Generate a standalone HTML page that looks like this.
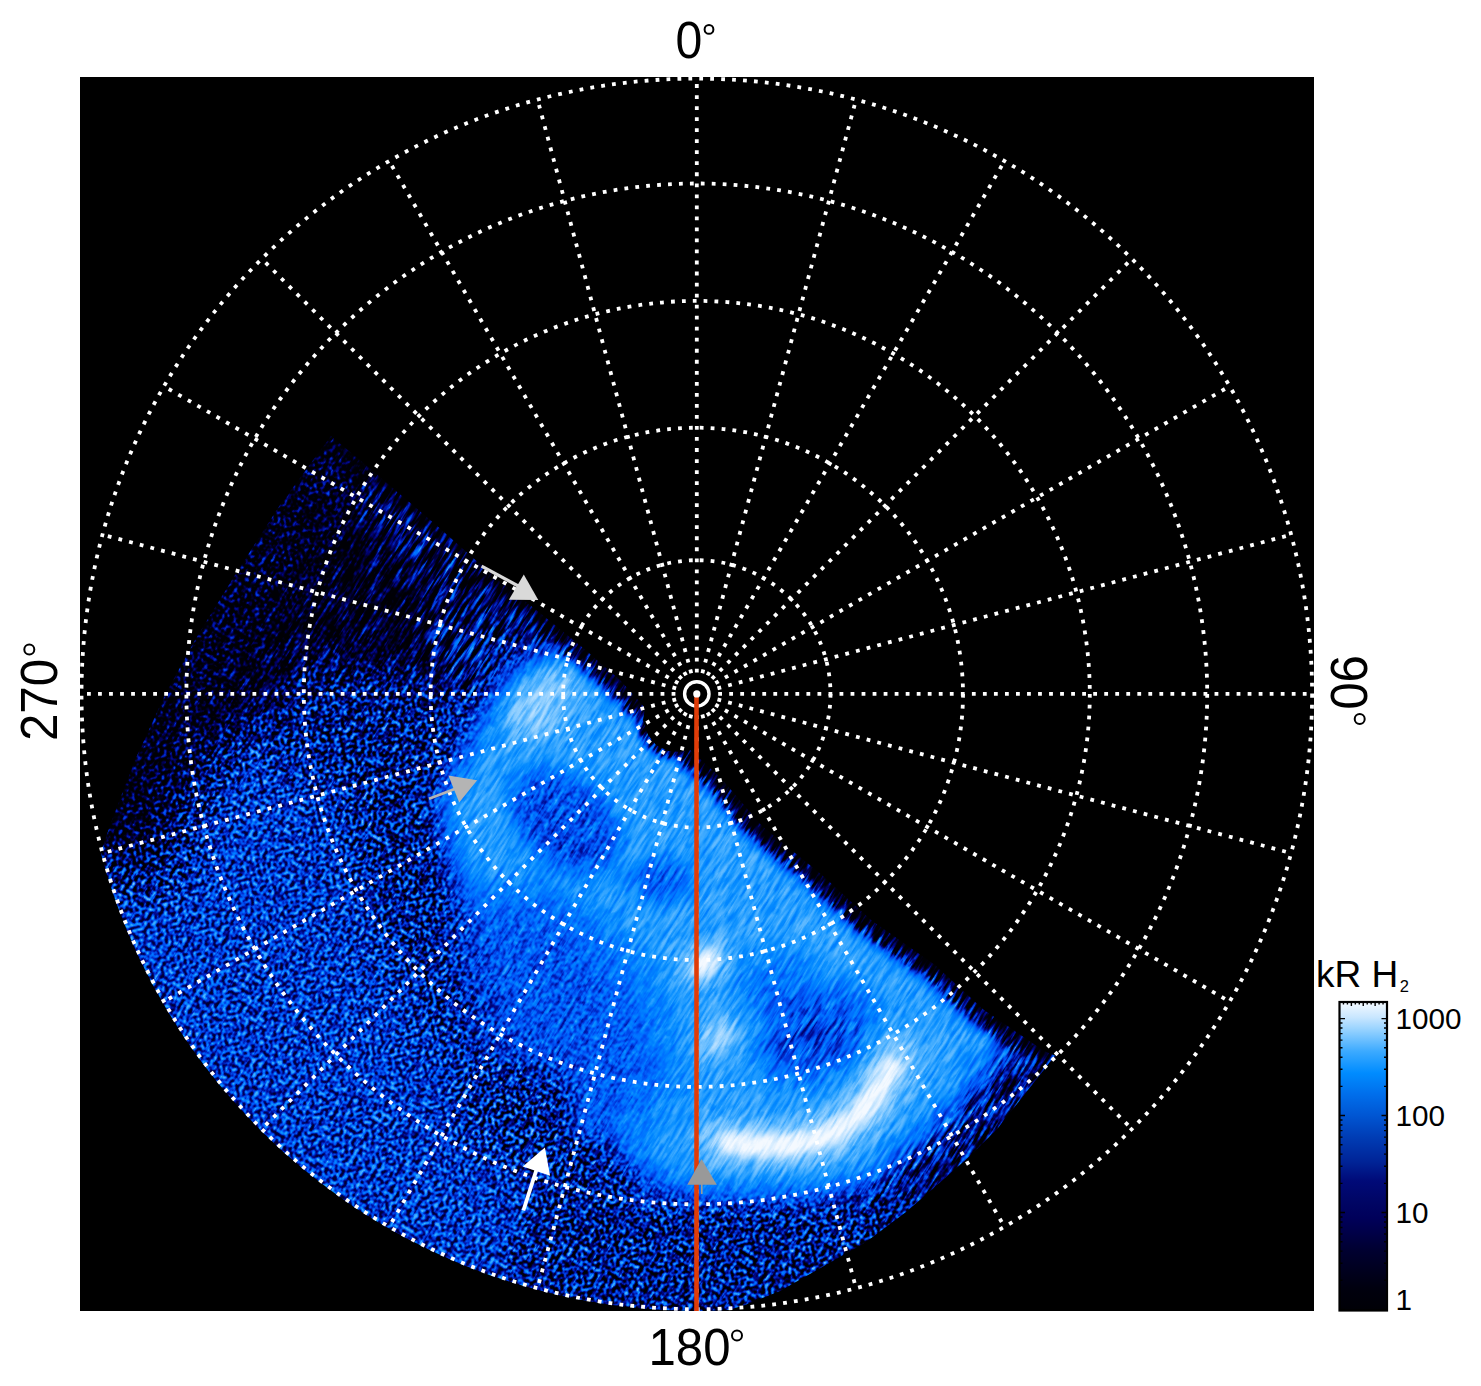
<!DOCTYPE html>
<html><head><meta charset="utf-8"><title>aurora</title><style>html,body{margin:0;padding:0;background:#fff;width:1481px;height:1386px;overflow:hidden}svg{position:absolute;left:0;top:0;display:block}</style></head><body>
<svg width="1481" height="1386" viewBox="0 0 1481 1386">
<defs>
<linearGradient id="cbg" x1="0" y1="1" x2="0" y2="0"><stop offset="0" stop-color="rgb(0,0,6)"/><stop offset="0.07" stop-color="rgb(0,0,14)"/><stop offset="0.2" stop-color="rgb(0,0,50)"/><stop offset="0.26" stop-color="rgb(0,0,75)"/><stop offset="0.3" stop-color="rgb(0,0,90)"/><stop offset="0.35" stop-color="rgb(0,5,100)"/><stop offset="0.42" stop-color="rgb(0,10,120)"/><stop offset="0.48" stop-color="rgb(0,35,150)"/><stop offset="0.56" stop-color="rgb(0,60,180)"/><stop offset="0.63" stop-color="rgb(0,85,210)"/><stop offset="0.7" stop-color="rgb(0,110,235)"/><stop offset="0.77" stop-color="rgb(0,140,255)"/><stop offset="0.84" stop-color="rgb(60,170,255)"/><stop offset="0.91" stop-color="rgb(150,210,255)"/><stop offset="0.95" stop-color="rgb(200,230,255)"/><stop offset="1" stop-color="rgb(245,250,255)"/></linearGradient>
<clipPath id="clipCirc"><circle cx="696.8" cy="693.9" r="617"/></clipPath>
<clipPath id="clipData"><path d="M331 436 L373 471 L436 525 L498 580 L540 613 L582 647 L620 680 L645 708 L643 720 L648 735 L656 745 L668 751 L680 752 L690 750 L720 777 L762 826 L822 875 L871 920 L935 965 L984 1010 L1044 1051 L1056 1056 L1050 1062 L998 1128 L970 1156 L928 1193 L906 1212 L866 1242 L824 1266 L780 1291 L745 1305 L722 1312 L705 1318 L700 1400 L0 1400 L60 900 L98 860 L112 820 L135 760 L165 695 L195 640 L235 575 L280 505 L331 436Z"/></clipPath>
<filter id="cm" x="-20%" y="-20%" width="140%" height="140%" color-interpolation-filters="sRGB" primitiveUnits="userSpaceOnUse">
  <feGaussianBlur in="SourceGraphic" stdDeviation="3" result="src"/>
  <feColorMatrix in="src" type="matrix" values="1 0 0 0 0  1 0 0 0 0  1 0 0 0 0  0 0 0 0 1" result="fld"/>
  <feColorMatrix in="src" type="matrix" values="0 1 0 0 0  0 1 0 0 0  0 1 0 0 0  0 0 0 0 1" result="wS"/>
  <feColorMatrix in="src" type="matrix" values="0 -1 0 0 1  0 -1 0 0 1  0 -1 0 0 1  0 0 0 0 1" result="wP"/>
  <feTurbulence type="fractalNoise" baseFrequency="0.035 0.3" numOctaves="2" seed="7" result="n1r"/>
  <feColorMatrix in="n1r" type="matrix" values="2 0 0 0 -0.5  2 0 0 0 -0.5  2 0 0 0 -0.5  0 0 0 0 1" result="n1"/>
  <feTurbulence type="fractalNoise" baseFrequency="0.26" numOctaves="1" seed="11" result="n2r"/>
  <feColorMatrix in="n2r" type="matrix" values="2.6 0 0 0 -0.8  2.6 0 0 0 -0.8  2.6 0 0 0 -0.8  0 0 0 0 1" result="n2"/>
  <feComposite in="n1" in2="wS" operator="arithmetic" k1="1" k2="0" k3="0" k4="0" result="c1"/>
  <feComposite in="n2" in2="wP" operator="arithmetic" k1="1" k2="0" k3="0" k4="0" result="c2"/>
  <feComposite in="c1" in2="c2" operator="arithmetic" k1="0" k2="1" k3="1" k4="0" result="nmix"/>
  <feComponentTransfer in="nmix" result="ng"><feFuncR type="table" tableValues="0 0.1 0.3 0.5 0.64 0.76 0.86"/><feFuncG type="table" tableValues="0 0.1 0.3 0.5 0.64 0.76 0.86"/><feFuncB type="table" tableValues="0 0.1 0.3 0.5 0.64 0.76 0.86"/><feFuncA type="linear" slope="0" intercept="1"/></feComponentTransfer>
  <feComponentTransfer in="fld" result="amp"><feFuncR type="table" tableValues="1 1 1 1 0.95 0.8 0.5 0.2 0.1 0.07 0.05"/><feFuncG type="table" tableValues="1 1 1 1 0.95 0.8 0.5 0.2 0.1 0.07 0.05"/><feFuncB type="table" tableValues="1 1 1 1 0.95 0.8 0.5 0.2 0.1 0.07 0.05"/><feFuncA type="linear" slope="0" intercept="1"/></feComponentTransfer>
  <feComposite in="ng" in2="amp" operator="arithmetic" k1="1" k2="0" k3="-0.5" k4="0.5" result="term"/>
  <feComposite in="fld" in2="term" operator="arithmetic" k1="0" k2="1" k3="1.4" k4="-0.7" result="v"/>
  <feTurbulence type="fractalNoise" baseFrequency="0.1 0.35" numOctaves="1" seed="23" result="n3r"/>
  <feColorMatrix in="n3r" type="matrix" values="2.6 0 0 0 -0.8  2.6 0 0 0 -0.8  2.6 0 0 0 -0.8  0 0 0 0 1" result="n3"/>
  <feComponentTransfer in="n3" result="dm"><feFuncR type="table" tableValues="0.5 0.44 0.28 0.08 0 0 0 0 0 0 0"/><feFuncG type="table" tableValues="0.5 0.44 0.28 0.08 0 0 0 0 0 0 0"/><feFuncB type="table" tableValues="0.5 0.44 0.28 0.08 0 0 0 0 0 0 0"/><feFuncA type="linear" slope="0" intercept="1"/></feComponentTransfer>
  <feComponentTransfer in="fld" result="amp2"><feFuncR type="table" tableValues="1 1 1 1 1 0.85 0.55 0.25 0.1 0.05 0.02"/><feFuncG type="table" tableValues="1 1 1 1 1 0.85 0.55 0.25 0.1 0.05 0.02"/><feFuncB type="table" tableValues="1 1 1 1 1 0.85 0.55 0.25 0.1 0.05 0.02"/><feFuncA type="linear" slope="0" intercept="1"/></feComponentTransfer>
  <feComposite in="dm" in2="amp2" operator="arithmetic" k1="1" k2="0" k3="0" k4="0" result="dd"/>
  <feComponentTransfer in="dd" result="inv"><feFuncR type="linear" slope="-1" intercept="1"/><feFuncG type="linear" slope="-1" intercept="1"/><feFuncB type="linear" slope="-1" intercept="1"/><feFuncA type="linear" slope="0" intercept="1"/></feComponentTransfer>
  <feComposite in="v" in2="inv" operator="arithmetic" k1="1" k2="0" k3="0" k4="0" result="v2"/>
  <feComponentTransfer in="v2">
    <feFuncR type="table" tableValues="0 0 0 0 0 0 0 0 0 0 0 0 0 0 0 0 0 0 0 0 0 0 0 0 0 0.05 0.15 0.27 0.43 0.58 0.73 0.85 0.96"/>
    <feFuncG type="table" tableValues="0 0 0 0 0 0 0 0 0 0 0 0.02 0.03 0.04 0.08 0.12 0.16 0.2 0.24 0.29 0.33 0.38 0.43 0.47 0.52 0.57 0.62 0.68 0.75 0.82 0.88 0.93 0.98"/>
    <feFuncB type="table" tableValues="0.02 0.04 0.05 0.08 0.11 0.15 0.18 0.23 0.3 0.35 0.41 0.47 0.52 0.57 0.64 0.71 0.77 0.83 0.89 0.92 0.96 0.98 1 1 1 1 1 1 1 1 1 1 1"/>
    <feFuncA type="linear" slope="0" intercept="1"/>
  </feComponentTransfer>
</filter>
<filter id="b40" x="-50%" y="-50%" width="200%" height="200%"><feGaussianBlur stdDeviation="40"/></filter>
<filter id="b25" x="-50%" y="-50%" width="200%" height="200%"><feGaussianBlur stdDeviation="25"/></filter>
<filter id="b15" x="-50%" y="-50%" width="200%" height="200%"><feGaussianBlur stdDeviation="15"/></filter>
<filter id="b10" x="-50%" y="-50%" width="200%" height="200%"><feGaussianBlur stdDeviation="10"/></filter>
<filter id="b6" x="-50%" y="-50%" width="200%" height="200%"><feGaussianBlur stdDeviation="6"/></filter>
<filter id="b3" x="-50%" y="-50%" width="200%" height="200%"><feGaussianBlur stdDeviation="3"/></filter>
</defs>
<rect x="80" y="77" width="1234" height="1234" fill="#000"/>
<g clip-path="url(#clipCirc)"><g clip-path="url(#clipData)"><g transform="rotate(-58 696.8 693.9)"><g filter="url(#cm)"><g transform="rotate(58 696.8 693.9)">
<rect x="60" y="400" width="1060" height="940" fill="rgb(148,26,0)"/>
<g filter="url(#b25)"><path d="M40 860 L120 780 L200 725 L330 715 L430 715 L470 660 L500 600 L360 420 L40 420Z" fill="rgb(31,204,0)"/></g>
<g filter="url(#b25)"><ellipse cx="315" cy="475" rx="60" ry="40" transform="rotate(40 315 475)" fill="rgb(26,204,0)"/></g>
<g filter="url(#b25)"><path d="M330 720 L400 730 L415 820 L445 910 L495 995 L545 1075 L590 1150" fill="none" stroke="rgb(112,51,0)" stroke-width="120" stroke-linecap="round" stroke-linejoin="round"/></g>
<g filter="url(#b15)"><path d="M445 790 L470 740 L505 700 L550 672 L600 662 L700 740 L800 850 L900 940 L1000 1010 L1070 1050 L1040 1090 L980 1140 L920 1180 L860 1192 L780 1195 L700 1195 L650 1180 L610 1140 L585 1090 L545 1010 L500 955 L465 905 L445 850 L435 790Z" fill="rgb(209,255,0)"/></g>
<g filter="url(#b15)"><path d="M300 430 L380 490 L440 540 L500 590 L545 625" fill="none" stroke="rgb(97,255,0)" stroke-width="70" stroke-linecap="round"/></g>
<g filter="url(#b15)"><ellipse cx="462" cy="652" rx="45" ry="30" transform="rotate(40 462 652)" fill="rgb(107,255,0)"/></g>
<g filter="url(#b25)"><ellipse cx="560" cy="1010" rx="80" ry="140" transform="rotate(-35 560 1010)" fill="rgb(168,128,0)"/></g>
<g filter="url(#b10)">
<ellipse cx="565" cy="822" rx="62" ry="42" transform="rotate(40 565 822)" fill="rgb(163,153,0)"/>
<ellipse cx="660" cy="880" rx="30" ry="20" fill="rgb(168,204,0)"/>
</g>
<g filter="url(#b15)">
<ellipse cx="815" cy="1035" rx="60" ry="40" transform="rotate(-30 815 1035)" fill="rgb(163,230,0)"/>
<ellipse cx="775" cy="985" rx="30" ry="25" fill="rgb(173,230,0)"/>
</g>
<g filter="url(#b15)">
<ellipse cx="548" cy="690" rx="62" ry="34" transform="rotate(-42 548 690)" fill="rgb(219,255,0)"/>
</g>
<g filter="url(#b10)">
<ellipse cx="540" cy="705" rx="38" ry="22" transform="rotate(-45 540 705)" fill="rgb(230,255,0)"/>
<ellipse cx="490" cy="820" rx="12" ry="50" transform="rotate(-25 490 820)" fill="rgb(209,255,0)"/>
<ellipse cx="718" cy="1038" rx="24" ry="17" transform="rotate(-40 718 1038)" fill="rgb(237,255,0)"/>
<ellipse cx="705" cy="963" rx="28" ry="18" transform="rotate(-50 705 963)" fill="rgb(235,255,0)"/>
<ellipse cx="581" cy="1119" rx="16" ry="7" transform="rotate(-55 581 1119)" fill="rgb(222,255,0)"/>
<path d="M898 1058 L887 1073 L876 1094 L858 1116 L830 1135 L795 1144 L760 1146 L722 1142" fill="none" stroke="rgb(230,255,0)" stroke-width="48" stroke-linejoin="round" stroke-linecap="round"/>
<path d="M940 1060 L920 1110 L885 1150" fill="none" stroke="rgb(209,255,0)" stroke-width="18"/>
</g>
<g filter="url(#b3)">
<path d="M891 1068 L887 1073 L876 1094 L858 1116 L830 1135 L795 1144 L760 1146 L728 1143" fill="none" stroke="rgb(255,255,0)" stroke-width="20" stroke-linecap="round" stroke-linejoin="round"/>
<ellipse cx="705" cy="963" rx="15" ry="9" transform="rotate(-55 705 963)" fill="rgb(255,255,0)"/>
</g>
<path d="M886 1076 L876 1094 L858 1116 L830 1135 L795 1144 L760 1146 L735 1143" fill="none" stroke="rgb(255,255,0)" stroke-width="10" stroke-linecap="round" stroke-linejoin="round"/>
<g filter="url(#b15)"><path d="M1050 1062 L998 1128 L970 1156 L928 1193 L906 1212 L866 1242 L824 1266 L780 1291 L745 1305 L722 1312 L705 1318" fill="none" stroke="rgb(102,204,0)" stroke-width="80"/></g>
<g filter="url(#b10)"><path d="M540 1185 L640 1205 L700 1210 L860 1210 L930 1195 L820 1340 L480 1340Z" fill="rgb(115,51,0)"/></g>
<g filter="url(#b15)"><ellipse cx="518" cy="1110" rx="55" ry="45" fill="rgb(120,26,0)"/></g>
<g filter="url(#b6)"><path d="M331 436 L373 471 L436 525 L498 580 L540 613 L582 647 L620 680 L645 708" fill="none" stroke="rgb(0,255,0)" stroke-width="24"/><path d="M690 750 L720 777 L762 826 L822 875 L871 920 L935 965 L984 1010 L1044 1051 L1056 1056" fill="none" stroke="rgb(0,255,0)" stroke-width="24"/></g>
<g filter="url(#b3)"><path d="M620 680 L645 708 L643 720 L648 735 L656 745 L668 751 L680 752 L690 750 L720 777" fill="none" stroke="rgb(0,255,0)" stroke-width="8"/></g>
<g filter="url(#b25)"><path d="M331 436 L280 505 L235 575 L195 640 L165 695 L135 760 L112 820 L98 860" fill="none" stroke="rgb(20,51,0)" stroke-width="120"/></g>
</g></g></g></g></g>
<circle cx="696.8" cy="693.9" r="133.7" fill="none" stroke="#fff" stroke-width="3.8" stroke-dasharray="3.8 7.11"/>
<circle cx="696.8" cy="693.9" r="266.2" fill="none" stroke="#fff" stroke-width="3.8" stroke-dasharray="3.8 7.13"/>
<circle cx="696.8" cy="693.9" r="393" fill="none" stroke="#fff" stroke-width="3.8" stroke-dasharray="3.8 7.13"/>
<circle cx="696.8" cy="693.9" r="510.4" fill="none" stroke="#fff" stroke-width="3.8" stroke-dasharray="3.8 7.15"/>
<circle cx="696.8" cy="693.9" r="615.3" fill="none" stroke="#fff" stroke-width="3.8" stroke-dasharray="3.8 7.15"/>
<line x1="696.8" y1="672.5" x2="696.8" y2="78.6" stroke="#fff" stroke-width="3.8" stroke-dasharray="3.8 7.23"/>
<line x1="702.34" y1="673.23" x2="856.05" y2="99.57" stroke="#fff" stroke-width="3.8" stroke-dasharray="3.8 7.23"/>
<line x1="707.5" y1="675.37" x2="1004.45" y2="161.03" stroke="#fff" stroke-width="3.8" stroke-dasharray="3.8 7.23"/>
<line x1="711.93" y1="678.77" x2="1131.88" y2="258.82" stroke="#fff" stroke-width="3.8" stroke-dasharray="3.8 7.23"/>
<line x1="715.33" y1="683.2" x2="1229.67" y2="386.25" stroke="#fff" stroke-width="3.8" stroke-dasharray="3.8 7.23"/>
<line x1="717.47" y1="688.36" x2="1291.13" y2="534.65" stroke="#fff" stroke-width="3.8" stroke-dasharray="3.8 7.23"/>
<line x1="718.2" y1="693.9" x2="1312.1" y2="693.9" stroke="#fff" stroke-width="3.8" stroke-dasharray="3.8 7.23"/>
<line x1="717.47" y1="699.44" x2="1291.13" y2="853.15" stroke="#fff" stroke-width="3.8" stroke-dasharray="3.8 7.23"/>
<line x1="715.33" y1="704.6" x2="1229.67" y2="1001.55" stroke="#fff" stroke-width="3.8" stroke-dasharray="3.8 7.23"/>
<line x1="711.93" y1="709.03" x2="1131.88" y2="1128.98" stroke="#fff" stroke-width="3.8" stroke-dasharray="3.8 7.23"/>
<line x1="707.5" y1="712.43" x2="1004.45" y2="1226.77" stroke="#fff" stroke-width="3.8" stroke-dasharray="3.8 7.23"/>
<line x1="702.34" y1="714.57" x2="856.05" y2="1288.23" stroke="#fff" stroke-width="3.8" stroke-dasharray="3.8 7.23"/>
<line x1="696.8" y1="715.3" x2="696.8" y2="1309.2" stroke="#fff" stroke-width="3.8" stroke-dasharray="3.8 7.23"/>
<line x1="691.26" y1="714.57" x2="537.55" y2="1288.23" stroke="#fff" stroke-width="3.8" stroke-dasharray="3.8 7.23"/>
<line x1="686.1" y1="712.43" x2="389.15" y2="1226.77" stroke="#fff" stroke-width="3.8" stroke-dasharray="3.8 7.23"/>
<line x1="681.67" y1="709.03" x2="261.72" y2="1128.98" stroke="#fff" stroke-width="3.8" stroke-dasharray="3.8 7.23"/>
<line x1="678.27" y1="704.6" x2="163.93" y2="1001.55" stroke="#fff" stroke-width="3.8" stroke-dasharray="3.8 7.23"/>
<line x1="676.13" y1="699.44" x2="102.47" y2="853.15" stroke="#fff" stroke-width="3.8" stroke-dasharray="3.8 7.23"/>
<line x1="675.4" y1="693.9" x2="81.5" y2="693.9" stroke="#fff" stroke-width="3.8" stroke-dasharray="3.8 7.23"/>
<line x1="676.13" y1="688.36" x2="102.47" y2="534.65" stroke="#fff" stroke-width="3.8" stroke-dasharray="3.8 7.23"/>
<line x1="678.27" y1="683.2" x2="163.93" y2="386.25" stroke="#fff" stroke-width="3.8" stroke-dasharray="3.8 7.23"/>
<line x1="681.67" y1="678.77" x2="261.72" y2="258.82" stroke="#fff" stroke-width="3.8" stroke-dasharray="3.8 7.23"/>
<line x1="686.1" y1="675.37" x2="389.15" y2="161.03" stroke="#fff" stroke-width="3.8" stroke-dasharray="3.8 7.23"/>
<line x1="691.26" y1="673.23" x2="537.55" y2="99.57" stroke="#fff" stroke-width="3.8" stroke-dasharray="3.8 7.23"/>
<circle cx="696.8" cy="693.9" r="12.2" fill="none" stroke="#fff" stroke-width="3.4"/>
<line x1="696.5" y1="693.9" x2="696.5" y2="1311" stroke="#e03c08" stroke-width="4.6"/>
<circle cx="696.8" cy="693.9" r="3.6" fill="#fff"/>
<line x1="481.6" y1="566.2" x2="520" y2="587" stroke="#d9d9d9" stroke-width="3.2"/>
<path d="M523.8 574.6 L538.3 600 L508.9 599.7Z" fill="#d9d9d9"/>
<line x1="429" y1="798.8" x2="456" y2="788.5" stroke="#b4b4b4" stroke-width="2.8"/>
<path d="M448.4 775.6 L477.2 780.3 L459.2 802.5Z" fill="#b4b4b4"/>
<line x1="523.4" y1="1210.5" x2="537" y2="1168" stroke="#fff" stroke-width="3.8"/>
<path d="M544.9 1147.6 L550.1 1175.8 L522.8 1166.6Z" fill="#fff"/>
<path d="M701.5 1159 L716.8 1184.8 L687.3 1184.8Z" fill="#999"/>
<line x1="701.8" y1="1184" x2="701.8" y2="1194" stroke="#999" stroke-width="1.6"/>
<g font-family="Liberation Sans" fill="#000">
<text x="0" y="0" font-size="52.4" transform="translate(675.5 57.9) scale(0.92 1)">0</text>
<circle cx="709" cy="29.4" r="4.4" fill="none" stroke="#000" stroke-width="2"/>
<text x="0" y="0" font-size="51.8" transform="translate(648.5 1364.7) scale(0.95 1)">180</text>
<circle cx="737" cy="1335.5" r="5" fill="none" stroke="#000" stroke-width="2"/>
<text x="0" y="0" font-size="51.8" transform="translate(57 741) rotate(-90) scale(0.95 1)">270</text>
<circle cx="29.3" cy="649.5" r="5" fill="none" stroke="#000" stroke-width="2"/>
<text x="0" y="0" font-size="51.8" transform="translate(1330.7 655) rotate(90) scale(0.95 1)">90</text>
<circle cx="1359.7" cy="719" r="5" fill="none" stroke="#000" stroke-width="2"/>
</g>
<rect x="1339.5" y="1002" width="47.5" height="308.5" fill="url(#cbg)" stroke="#000" stroke-width="2.2"/>
<path d="M1339.5 1309.51h5.5M1387 1309.51h-5.5M1339.5 1280.32h3M1387 1280.32h-3M1339.5 1263.24h3M1387 1263.24h-3M1339.5 1251.13h3M1387 1251.13h-3M1339.5 1241.73h3M1387 1241.73h-3M1339.5 1234.05h3M1387 1234.05h-3M1339.5 1227.56h3M1387 1227.56h-3M1339.5 1221.94h3M1387 1221.94h-3M1339.5 1216.98h3M1387 1216.98h-3M1339.5 1212.54h5.5M1387 1212.54h-5.5M1339.5 1183.35h3M1387 1183.35h-3M1339.5 1166.27h3M1387 1166.27h-3M1339.5 1154.16h3M1387 1154.16h-3M1339.5 1144.76h3M1387 1144.76h-3M1339.5 1137.08h3M1387 1137.08h-3M1339.5 1130.59h3M1387 1130.59h-3M1339.5 1124.97h3M1387 1124.97h-3M1339.5 1120.01h3M1387 1120.01h-3M1339.5 1115.57h5.5M1387 1115.57h-5.5M1339.5 1086.38h3M1387 1086.38h-3M1339.5 1069.3h3M1387 1069.3h-3M1339.5 1057.19h3M1387 1057.19h-3M1339.5 1047.79h3M1387 1047.79h-3M1339.5 1040.11h3M1387 1040.11h-3M1339.5 1033.62h3M1387 1033.62h-3M1339.5 1028h3M1387 1028h-3M1339.5 1023.04h3M1387 1023.04h-3M1339.5 1018.6h5.5M1387 1018.6h-5.5M1343.46 1002v2.5M1347.42 1002v2.5M1351.38 1002v4M1355.33 1002v2.5M1359.29 1002v2.5M1363.25 1002v4M1367.21 1002v2.5M1371.17 1002v2.5M1375.12 1002v4M1379.08 1002v2.5M1383.04 1002v2.5" stroke="#000" stroke-width="1.4" fill="none"/>
<g font-family="Liberation Sans" fill="#000">
<text x="1395.5" y="1028.9" font-size="29.7">1000</text>
<text x="1395.5" y="1125.8" font-size="29.7">100</text>
<text x="1395.5" y="1222.8" font-size="29.7">10</text>
<text x="1395.5" y="1309.5" font-size="29.7">1</text>
<text x="1316" y="986.7" font-size="37">kR H<tspan font-size="16.5" dx="1.5" dy="5">2</tspan></text>
</g>
</svg>
</body></html>
